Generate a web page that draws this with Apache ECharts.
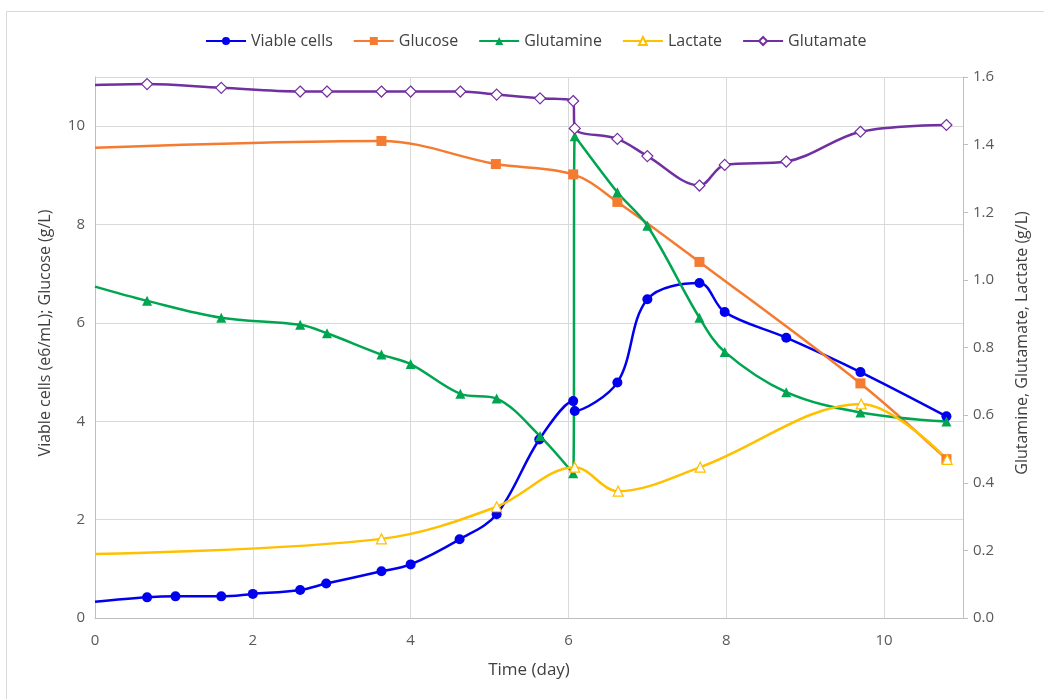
<!DOCTYPE html>
<html>
<head>
<meta charset="utf-8">
<script src="https://cdn.jsdelivr.net/npm/echarts@6/dist/echarts.min.js"></script>
<style>
html,body{margin:0;padding:0;background:#fff;}
#chart{width:1044px;height:699px;}
</style>
</head>
<body>
<div id="chart"></div>
<script>
// ---- data ----
const viableDays   = [0, 0.66, 1.02, 1.6, 2.0, 2.6, 2.93, 3.63, 4.0, 4.62, 5.09, 5.63, 6.06, 6.08, 6.62, 7.0, 7.66, 7.98, 8.76, 9.7, 10.79];
const viableCells  = [0.33, 0.42, 0.44, 0.44, 0.49, 0.57, 0.70, 0.95, 1.09, 1.60, 2.11, 3.63, 4.41, 4.21, 4.79, 6.48, 6.81, 6.22, 5.70, 5.00, 4.10];

const glucoseDays  = [0, 3.63, 5.08, 6.06, 6.62, 7.66, 9.7, 10.79];
const glucose      = [9.56, 9.70, 9.23, 9.02, 8.46, 7.24, 4.77, 3.23];

const glutamineDays = [0, 0.66, 1.6, 2.6, 2.94, 3.63, 4.0, 4.63, 5.09, 5.64, 6.06, 6.08, 6.62, 7.0, 7.66, 7.98, 8.76, 9.7, 10.79];
const glutamine     = [0.98, 0.938, 0.888, 0.867, 0.842, 0.779, 0.751, 0.663, 0.649, 0.538, 0.428, 1.425, 1.259, 1.16, 0.888, 0.787, 0.668, 0.608, 0.581];

const lactateDays  = [0, 3.63, 5.09, 6.08, 6.63, 7.67, 9.71, 10.8];
const lactate      = [0.189, 0.234, 0.329, 0.446, 0.375, 0.446, 0.633, 0.469];

const glutamateDays = [0, 0.66, 1.6, 2.6, 2.94, 3.63, 4.0, 4.63, 5.09, 5.64, 6.06, 6.08, 6.62, 7.0, 7.66, 7.98, 8.76, 9.7, 10.79];
const glutamate     = [1.576, 1.579, 1.568, 1.557, 1.557, 1.557, 1.557, 1.557, 1.548, 1.537, 1.529, 1.448, 1.417, 1.366, 1.279, 1.34, 1.35, 1.438, 1.458];

const xTicks = [0, 2, 4, 6, 8, 10];
const leftTicks = [0, 2, 4, 6, 8, 10];
const rightTicks = [0, 0.2, 0.4, 0.6, 0.8, 1.0, 1.2, 1.4, 1.6];

function pairs(xs, ys) {
  return xs.map((x, i) => i === 0 ? { value: [x, ys[i]], symbol: 'none' } : [x, ys[i]]);
}

const FONT = 'Open Sans';
const chart = echarts.init(document.getElementById('chart'), null, { renderer: 'canvas' });

function series(name, xs, ys, color, symbol, hollow, yAxisIndex) {
  return {
    name: name,
    type: 'line',
    yAxisIndex: yAxisIndex,
    data: pairs(xs, ys),
    smooth: 0.35,
    symbol: symbol,
    symbolSize: symbol === 'circle' ? 10 : (symbol === 'diamond' ? 11 : 10),
    showAllSymbol: true,
    lineStyle: { color: color, width: 2.5 },
    itemStyle: hollow ? { color: '#ffffff', borderColor: color, borderWidth: 1.2 } : { color: color },
    emphasis: { disabled: true },
    clip: false
  };
}

const option = {
  animation: false,
  backgroundColor: '#ffffff',
  textStyle: { fontFamily: FONT },
  graphic: [
    { type: 'rect', shape: { x: 6.5, y: 11.5, width: 2000, height: 2000 }, style: { fill: 'none', stroke: '#d9d9d9', lineWidth: 1 }, silent: true },
    { type: 'text', x: 45, y: 333, rotation: Math.PI / 2,
      style: { text: 'Viable cells (e6/mL); Glucose (g/L)', font: '16px "' + FONT + '"', fill: '#404040', align: 'center', verticalAlign: 'middle' } },
    { type: 'text', x: 1022, y: 343, rotation: Math.PI / 2,
      style: { text: 'Glutamine, Glutamate, Lactate (g/L)', font: '16px "' + FONT + '"', fill: '#404040', align: 'center', verticalAlign: 'middle' } }
  ],
  legend: {
    top: 33,
    left: 205,
    padding: 0,
    itemWidth: 40,
    itemHeight: 10,
    itemGap: 20,
    textStyle: { fontFamily: FONT, fontSize: 16, color: '#404040' },
    data: ['Viable cells', 'Glucose', 'Glutamine', 'Lactate', 'Glutamate']
  },
  grid: { left: 95, right: 81, top: 77, bottom: 81, containLabel: false },
  xAxis: {
    type: 'value',
    min: 0, max: 11, interval: 2,
    name: 'Time (day)',
    nameLocation: 'middle',
    nameGap: 44,
    nameTextStyle: { fontFamily: FONT, fontSize: 17, color: '#404040' },
    axisLine: { show: true, lineStyle: { color: '#bfbfbf', width: 1 } },
    axisTick: { show: false },
    axisLabel: { fontFamily: FONT, fontSize: 15, color: '#595959', margin: 15,
      customValues: xTicks },
    splitLine: { show: true, lineStyle: { color: '#d9d9d9', width: 1 } }
  },
  yAxis: [
    {
      type: 'value', position: 'left',
      min: 0, max: 11, interval: 2,
      axisLine: { show: true, lineStyle: { color: '#bfbfbf', width: 1 } },
      axisTick: { show: false },
      axisLabel: { fontFamily: FONT, fontSize: 15, color: '#595959', margin: 10,
        customValues: leftTicks },
      splitLine: { show: true, lineStyle: { color: '#d9d9d9', width: 1 } }
    },
    {
      type: 'value', position: 'right',
      min: 0, max: 1.6, interval: 0.2,
      axisLine: { show: true, lineStyle: { color: '#bfbfbf', width: 1 } },
      axisTick: { show: true, length: 5, lineStyle: { color: '#bfbfbf' }, customValues: rightTicks },
      axisLabel: { fontFamily: FONT, fontSize: 15, color: '#595959', margin: 10,
        customValues: rightTicks,
        formatter: v => v.toFixed(1) },
      splitLine: { show: false }
    }
  ],
  series: [
    series('Viable cells', viableDays, viableCells, '#0000ee', 'circle', false, 0),
    series('Glucose', glucoseDays, glucose, '#f47b30', 'rect', false, 0),
    series('Glutamine', glutamineDays, glutamine, '#00a550', 'triangle', false, 1),
    series('Lactate', lactateDays, lactate, '#ffc000', 'triangle', true, 1),
    series('Glutamate', glutamateDays, glutamate, '#7030a0', 'diamond', true, 1)
  ]
};
chart.setOption(option);
</script>
</body>
</html>
